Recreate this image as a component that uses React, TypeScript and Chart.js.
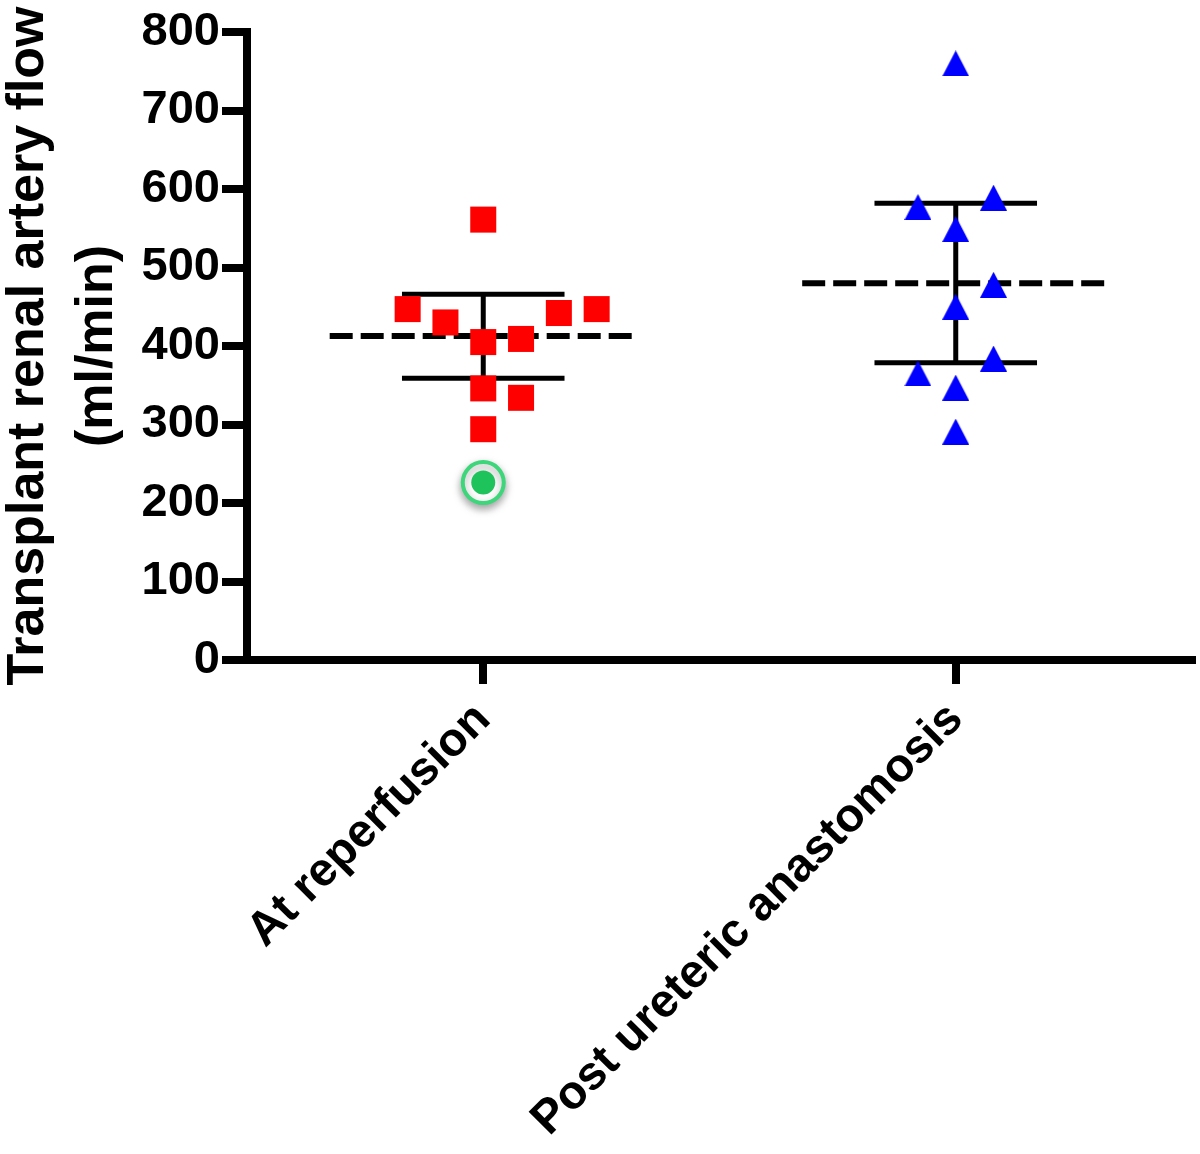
import React, { useEffect, useRef } from 'react';
import { Chart, registerables } from 'chart.js';

Chart.register(...registerables);

// ---------- data ----------
const categories = ['At reperfusion', 'Post ureteric anastomosis'];
const yTickValues = [0, 100, 200, 300, 400, 500, 600, 700, 800];

const reperfusionValues = [561, 447, 430, 442, 447, 405, 409, 346, 334, 294];
const reperfusionJitter = [0, -0.16, -0.08, 0.16, 0.24, 0, 0.08, 0, 0.08, 0];

const highlightedValues = [226];
const highlightedJitter = [0];

const postValues = [760, 577, 589, 549, 478, 450, 384, 365, 347, 291];
const postJitter = [0, -0.08, 0.08, 0, 0.08, 0, 0.08, -0.08, 0, 0];

const groupMeans = [412.7, 480];
const groupUpper = [466, 581.7];
const groupLower = [359, 378.7];

// ---------- helpers ----------
const FONT = "'Liberation Sans', Arial, Helvetica, sans-serif";

function makeTriangle(w: number, h: number, color: string) {
  const c = document.createElement('canvas');
  c.width = w;
  c.height = h;
  const ctx = c.getContext('2d')!;
  ctx.fillStyle = color;
  ctx.beginPath();
  ctx.moveTo(w / 2, 0);
  ctx.lineTo(w, h);
  ctx.lineTo(0, h);
  ctx.closePath();
  ctx.fill();
  return c;
}

const shadowPlugin = {
  id: 'highlightShadow',
  beforeDatasetDraw(chart: any, args: any) {
    if (chart.data.datasets[args.index]?.label === 'highlight-ring') {
      const ctx = chart.ctx;
      ctx.save();
      ctx.shadowColor = 'rgba(0,0,0,0.35)';
      ctx.shadowBlur = 8;
      ctx.shadowOffsetY = 4;
    }
  },
  afterDatasetDraw(chart: any, args: any) {
    if (chart.data.datasets[args.index]?.label === 'highlight-ring') {
      chart.ctx.restore();
    }
  },
};

export default function App() {
  const ref = useRef<HTMLCanvasElement | null>(null);

  useEffect(() => {
    document.body.style.margin = '0';
    const canvas = ref.current!;
    const tri = makeTriangle(27, 26, '#0000ff');

    const lineDs = (pts: { x: number; y: number }[], width: number, dash: number[] = []) => ({
      type: 'line' as const,
      label: 'line',
      data: pts,
      borderColor: '#000',
      borderWidth: width,
      borderDash: dash,
      borderCapStyle: 'butt',
      pointRadius: 0,
      fill: false,
      tension: 0,
      order: 3,
    });

    const summary: any[] = [];
    groupMeans.forEach((m, g) => {
      summary.push(lineDs([{ x: g - 0.325, y: m }, { x: g + 0.325, y: m }], 6, [23, 8]));
      summary.push(lineDs([{ x: g - 0.172, y: groupUpper[g] }, { x: g + 0.172, y: groupUpper[g] }], 5));
      summary.push(lineDs([{ x: g - 0.172, y: groupLower[g] }, { x: g + 0.172, y: groupLower[g] }], 5));
      summary.push(lineDs([{ x: g, y: groupLower[g] }, { x: g, y: groupUpper[g] }], 5));
    });

    const chart = new Chart(canvas, {
      type: 'scatter',
      data: {
        datasets: [
          {
            label: 'reperfusion',
            data: reperfusionValues.map((v, i) => ({ x: 0 + reperfusionJitter[i], y: v })),
            pointStyle: 'rect',
            pointRadius: 18.4,
            backgroundColor: '#ff0000',
            borderWidth: 0,
            order: 1,
          },
          {
            label: 'highlight-ring',
            data: highlightedValues.map((v, i) => ({ x: 0 + highlightedJitter[i], y: v })),
            pointStyle: 'circle',
            pointRadius: 20.5,
            backgroundColor: '#ffffff',
            borderColor: '#3dd67a',
            borderWidth: 4,
            order: 0.5,
          },
          {
            label: 'highlight-core',
            data: highlightedValues.map((v, i) => ({ x: 0 + highlightedJitter[i], y: v })),
            pointStyle: 'circle',
            pointRadius: 12,
            backgroundColor: '#1fc35b',
            borderWidth: 0,
            order: 0,
          },
          {
            label: 'post',
            data: postValues.map((v, i) => ({ x: 1 + postJitter[i], y: v })),
            pointStyle: tri as any,
            pointRadius: 14,
            backgroundColor: '#0000ff',
            borderWidth: 0,
            order: 1,
          },
          ...summary,
        ] as any,
      },
      options: {
        animation: false,
        responsive: false,
        devicePixelRatio: 1,
        layout: { autoPadding: false, padding: { top: 32, right: 8, left: 0, bottom: 0 } },
        plugins: { legend: { display: false }, tooltip: { enabled: false } },
        events: [],
        scales: {
          x: {
            type: 'linear',
            min: -0.5,
            max: 1.5,
            afterBuildTicks: (scale: any) => {
              scale.ticks = categories.map((_, i) => ({ value: i }));
            },
            afterFit: (scale: any) => {
              scale.height = 494;
              scale.paddingLeft = 0;
              scale.paddingRight = 0;
            },
            grid: {
              display: true,
              drawOnChartArea: false,
              drawTicks: true,
              tickLength: 24,
              tickWidth: 8,
              lineWidth: 8,
              tickColor: '#000',
              color: '#000',
            },
            border: { display: true, color: '#000', width: 8 },
            ticks: {
              autoSkip: false,
              minRotation: 45,
              maxRotation: 45,
              padding: 8,
              color: '#000',
              font: { family: FONT, size: 47, weight: 'bold' },
              callback: (v: any) => categories[Math.round(Number(v))] ?? '',
            },
          },
          y: {
            type: 'linear',
            min: 0,
            max: 800,
            afterBuildTicks: (scale: any) => {
              scale.ticks = yTickValues.map((v) => ({ value: v }));
            },
            afterFit: (scale: any) => {
              scale.width = 247;
              scale.paddingTop = 0;
              scale.paddingBottom = 0;
            },
            grid: {
              display: true,
              drawOnChartArea: false,
              drawTicks: true,
              tickLength: 25,
              tickWidth: 8,
              lineWidth: 8,
              tickColor: '#000',
              color: '#000',
            },
            border: { display: true, color: '#000', width: 8 },
            ticks: {
              padding: 2,
              color: '#000',
              font: { family: FONT, size: 47, weight: 'bold' },
            },
            title: {
              display: true,
              text: ['Transplant renal artery flow', '(ml/min)'],
              color: '#000',
              font: { family: FONT, size: 52, weight: 'bold', lineHeight: 1.31 },
              padding: { top: -5, bottom: 0 },
            },
          },
        },
      },
      plugins: [shadowPlugin],
    } as any);

    return () => chart.destroy();
  }, []);

  return (
    <div style={{ width: 1200, height: 1154 }}>
      <canvas ref={ref} width={1200} height={1154} style={{ display: 'block', width: 1200, height: 1154 }} />
    </div>
  );
}
